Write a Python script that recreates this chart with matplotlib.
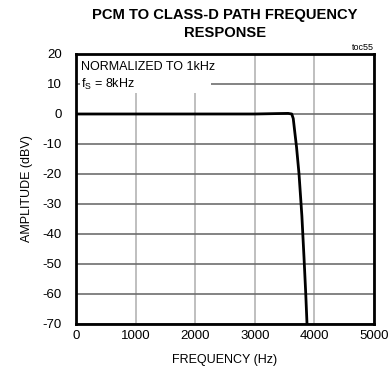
import matplotlib
matplotlib.use("Agg")
import matplotlib.pyplot as plt
from matplotlib.patches import Rectangle

freq = [0, 500, 1000, 2000, 3000, 3400, 3560, 3620, 3645, 3665, 3700, 3742, 3790, 3826, 3855, 3876]
amp = [0, 0, 0, 0, 0, 0.15, 0.2, 0.0, -1.5, -5, -11, -20, -34, -48, -60, -70]

xticks = [0, 1000, 2000, 3000, 4000, 5000]
yticks = [20, 10, 0, -10, -20, -30, -40, -50, -60, -70]

plt.rcParams['font.family'] = ['Liberation Sans Narrow', 'Liberation Sans', 'DejaVu Sans']
plt.rcParams['axes.unicode_minus'] = False

fig = plt.figure(figsize=(3.88, 3.79), dpi=100)
ax = fig.add_axes([76/388, 1-324/379, 298/388, 270/379])

ax.set_xlim(0, 5000)
ax.set_ylim(-70, 20)
ax.set_xticks(xticks)
ax.set_yticks(yticks)
ax.tick_params(length=0, labelsize=9.5)
ax.tick_params(axis='x', pad=4)
ax.tick_params(axis='y', pad=10)

ax.grid(axis='x', color='#b4b4b4', lw=1.2)
ax.grid(axis='y', color='#6e6e6e', lw=1.2)
ax.set_axisbelow(True)
for s in ax.spines.values():
    s.set_linewidth(2)

ax.plot(freq, amp, color='black', lw=2, solid_capstyle='butt', zorder=3, clip_on=True)

ax.add_patch(Rectangle((4/298, 1), 2270/5000 - 4/298, -13/90, transform=ax.transAxes,
                       facecolor='white', edgecolor='none', zorder=2))
ax.text(5/298, 1 - 13/270, 'NORMALIZED TO 1kHz', transform=ax.transAxes, va='center', ha='left',
        fontsize=9, zorder=4)
ax.text(5/298, 1 - 30/270, r'f$_\mathregular{S}$ = 8kHz', transform=ax.transAxes, va='center', ha='left',
        fontsize=9, zorder=4)

ax.set_xlabel('FREQUENCY (Hz)', fontsize=9, labelpad=9)
ax.set_ylabel('AMPLITUDE (dBV)', fontsize=9, labelpad=7)

fig.text(1 - 14/388, 1 - 47/379, 'toc55', ha='right', va='center', fontsize=6.5)
fig.text(0.5 + 31/388, 1 - 24/379, 'PCM TO CLASS-D PATH FREQUENCY\nRESPONSE', ha='center', va='center',
         fontsize=10.6, fontweight='bold', linespacing=1.35)

fig.savefig('out.png', dpi=100)
